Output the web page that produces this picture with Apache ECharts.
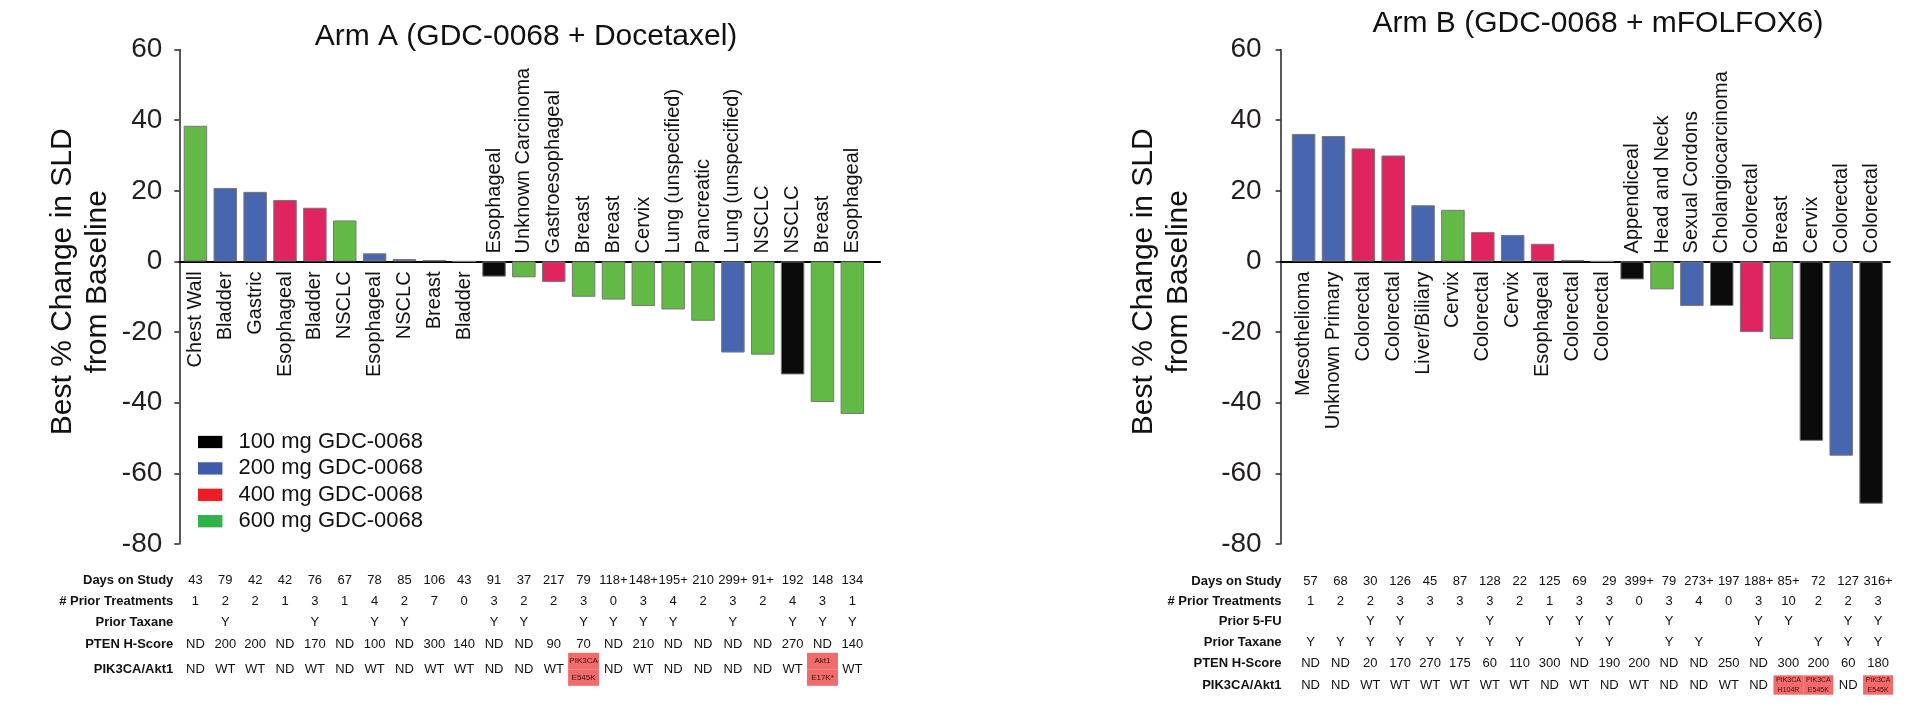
<!DOCTYPE html>
<html><head><meta charset="utf-8">
<script src="https://cdn.jsdelivr.net/npm/echarts@6/dist/echarts.min.js"></script>
<style>html,body{margin:0;padding:0;background:#fff;overflow:hidden}#c{width:1915px;height:705px}</style>
</head><body><div id="c"></div>
<script>
// ---------- data ----------
const doseLevels = [100, 200, 400, 600];
const doseNames = ['100 mg GDC-0068', '200 mg GDC-0068', '400 mg GDC-0068', '600 mg GDC-0068'];
const barColors = ['#0b0b0b', '#4866b0', '#e0245f', '#63b946'];
const legendColors = ['#000000', '#4059a8', '#ee1c25', '#2db34a'];
const yTicks = { min: -80, max: 60, step: 20 };

// Arm A
const titleA = 'Arm A (GDC-0068 + Docetaxel)';
const catA = ['Chest Wall', 'Bladder', 'Gastric', 'Esophageal', 'Bladder', 'NSCLC', 'Esophageal', 'NSCLC', 'Breast', 'Bladder',
  'Esophageal', 'Unknown Carcinoma', 'Gastroesophageal', 'Breast', 'Breast', 'Cervix', 'Lung (unspecified)', 'Pancreatic',
  'Lung (unspecified)', 'NSCLC', 'NSCLC', 'Breast', 'Esophageal'];
const valA = [38.4, 20.8, 19.7, 17.4, 15.2, 11.6, 2.3, 0.7, 0.4, 0,
  -4.3, -4.5, -5.8, -10.0, -10.8, -12.6, -13.6, -16.8, -25.8, -26.4, -32.0, -39.8, -43.2];
const doseA = [600, 200, 200, 400, 400, 600, 200, 200, 400, 200,
  100, 600, 400, 600, 600, 600, 600, 600, 200, 600, 100, 600, 600];
const daysA = ['43', '79', '42', '42', '76', '67', '78', '85', '106', '43', '91', '37', '217', '79', '118+', '148+', '195+', '210', '299+', '91+', '192', '148', '134'];
const priorA = ['1', '2', '2', '1', '3', '1', '4', '2', '7', '0', '3', '2', '2', '3', '0', '3', '4', '2', '3', '2', '4', '3', '1'];
const taxaneA = ['', 'Y', '', '', 'Y', '', 'Y', 'Y', '', '', 'Y', 'Y', '', 'Y', 'Y', 'Y', 'Y', '', 'Y', '', 'Y', 'Y', 'Y'];
const ptenA = ['ND', '200', '200', 'ND', '170', 'ND', '100', 'ND', '300', '140', 'ND', 'ND', '90', '70', 'ND', '210', 'ND', 'ND', 'ND', 'ND', '270', 'ND', '140'];
const pikA = ['ND', 'WT', 'WT', 'ND', 'WT', 'ND', 'WT', 'ND', 'WT', 'WT', 'ND', 'ND', 'WT', 'PIK3CA\nE545K', 'ND', 'WT', 'ND', 'ND', 'ND', 'ND', 'WT', 'Akt1\nE17K*', 'WT'];
const rowLabelsA = ['Days on Study', '# Prior Treatments', 'Prior Taxane', 'PTEN H-Score', 'PIK3CA/Akt1'];
const rowsA = [daysA, priorA, taxaneA, ptenA, pikA];

// Arm B
const titleB = 'Arm B (GDC-0068 + mFOLFOX6)';
const catB = ['Mesothelioma', 'Unknown Primary', 'Colorectal', 'Colorectal', 'Liver/Biliary', 'Cervix', 'Colorectal', 'Cervix',
  'Esophageal', 'Colorectal', 'Colorectal', 'Appendiceal', 'Head and Neck', 'Sexual Cordons', 'Cholangiocarcinoma',
  'Colorectal', 'Breast', 'Cervix', 'Colorectal', 'Colorectal'];
const valB = [36.1, 35.5, 32.0, 30.0, 15.9, 14.6, 8.3, 7.5, 5.0, 0.4, 0,
  -5.1, -7.9, -12.6, -12.6, -20.0, -22.0, -50.8, -55.0, -68.6];
const doseB = [200, 200, 400, 400, 200, 600, 400, 200, 400, 100, 100,
  100, 600, 200, 100, 400, 600, 100, 200, 100];
const daysB = ['57', '68', '30', '126', '45', '87', '128', '22', '125', '69', '29', '399+', '79', '273+', '197', '188+', '85+', '72', '127', '316+'];
const priorB = ['1', '2', '2', '3', '3', '3', '3', '2', '1', '3', '3', '0', '3', '4', '0', '3', '10', '2', '2', '3'];
const fuB = ['', '', 'Y', 'Y', '', '', 'Y', '', 'Y', 'Y', 'Y', '', 'Y', '', '', 'Y', 'Y', '', 'Y', 'Y'];
const taxaneB = ['Y', 'Y', 'Y', 'Y', 'Y', 'Y', 'Y', 'Y', '', 'Y', 'Y', '', 'Y', 'Y', '', 'Y', '', 'Y', 'Y', 'Y'];
const ptenB = ['ND', 'ND', '20', '170', '270', '175', '60', '110', '300', 'ND', '190', '200', 'ND', 'ND', '250', 'ND', '300', '200', '60', '180'];
const pikB = ['ND', 'ND', 'WT', 'WT', 'WT', 'WT', 'WT', 'WT', 'ND', 'WT', 'ND', 'WT', 'ND', 'ND', 'WT', 'ND', 'PIK3CA\nH104R', 'PIK3CA\nE545K', 'ND', 'PIK3CA\nE545K'];
const rowLabelsB = ['Days on Study', '# Prior Treatments', 'Prior 5-FU', 'Prior Taxane', 'PTEN H-Score', 'PIK3CA/Akt1'];
const rowsB = [daysB, priorB, fuB, taxaneB, ptenB, pikB];

// ---------- layout / style ----------
const FONT = 'Liberation Sans, Arial, Helvetica, sans-serif';
const arms = [
  { title: titleA, cat: catA, val: valA, dose: doseA, rows: rowsA, rowLabels: rowLabelsA,
    grid: { left: 179.3, top: 49.5, width: 700.8, height: 494.5 }, xMin: -0.54, xMax: 22.93, tableShift: 0,
    titleX: 526, titleY: 22, nameGap: 64, tickMargin: 17, rowY: [580, 601, 622.3, 644, 669.3], rowNameGap: 6,
    box: { w: 31, h: 16.5, fs: 8 } },
  { title: titleB, cat: catB, val: valB, dose: doseB, rows: rowsB, rowLabels: rowLabelsB,
    grid: { left: 1280.6, top: 49.5, width: 609.3, height: 494.5 }, xMin: -0.77, xMax: 19.63, tableShift: -0.234,
    titleX: 1598, titleY: 9, nameGap: 84, tickMargin: 19, rowY: [581, 601, 621.7, 642.3, 663.3, 685], rowNameGap: -1,
    box: { w: 30, h: 9.7, fs: 7 } }
];

const grids = [], xAxes = [], yAxes = [], series = [], titles = [];
arms.forEach((arm, g) => {
  grids.push(Object.assign({ outerBoundsMode: 'none', containLabel: false }, arm.grid));
  titles.push({ text: arm.title, left: arm.titleX, top: arm.titleY, textAlign: 'center', padding: 0,
    textStyle: { fontSize: 30, fontWeight: 'normal', color: '#111', fontFamily: FONT } });
  const gridBottom = arm.grid.top + arm.grid.height;
  const zeroY = arm.grid.top + arm.grid.height * yTicks.max / (yTicks.max - yTicks.min);
  const idx = arm.cat.map((_, i) => i);
  const mainX = xAxes.length;
  // main axis: zero line
  xAxes.push({ type: 'value', gridIndex: g, min: arm.xMin, max: arm.xMax, position: 'bottom',
    axisLine: { onZero: true, onZeroAxisIndex: g, lineStyle: { color: '#000', width: 2 } },
    axisTick: { show: false }, splitLine: { show: false }, axisLabel: { show: false } });
  // labels of non-negative bars, below the zero line
  xAxes.push({ type: 'value', gridIndex: g, min: arm.xMin, max: arm.xMax, position: 'bottom',
    offset: zeroY - gridBottom,
    axisLine: { show: false, onZero: false }, axisTick: { show: false }, splitLine: { show: false },
    axisLabel: { customValues: idx.filter(i => arm.val[i] >= 0), formatter: v => arm.cat[v], rotate: 90, margin: 10,
      fontSize: 20, color: '#111', fontFamily: FONT, showMinLabel: true, showMaxLabel: true } });
  // labels of negative bars, above the zero line
  xAxes.push({ type: 'value', gridIndex: g, min: arm.xMin, max: arm.xMax, position: 'top',
    offset: arm.grid.top - zeroY,
    axisLine: { show: false, onZero: false }, axisTick: { show: false }, splitLine: { show: false },
    axisLabel: { customValues: idx.filter(i => arm.val[i] < 0), formatter: v => arm.cat[v], rotate: -90, margin: 8,
      fontSize: 20, color: '#111', fontFamily: FONT, showMinLabel: true, showMaxLabel: true } });
  // table rows
  arm.rows.forEach((row, r) => {
    xAxes.push({ type: 'value', gridIndex: g, min: arm.xMin + arm.tableShift, max: arm.xMax + arm.tableShift, position: 'bottom',
      offset: arm.rowY[r] - gridBottom,
      axisLine: { show: false, onZero: false }, axisTick: { show: false }, splitLine: { show: false },
      name: arm.rowLabels[r], nameLocation: 'start', nameGap: arm.rowNameGap,
      nameTextStyle: { fontSize: 13, fontWeight: 'bold', color: '#111', fontFamily: FONT },
      axisLabel: { customValues: idx, margin: 0, verticalAlign: 'middle', fontSize: 13, color: '#111', fontFamily: FONT,
        showMinLabel: true, showMaxLabel: true,
        formatter: v => { const s = row[v]; return s.indexOf('\n') >= 0 ? s.split('\n').map(p => '{m|' + p + '}').join('\n') : s; },
        rich: { m: { backgroundColor: '#f26b6b', color: '#3b1010', fontSize: arm.box.fs, width: arm.box.w, height: arm.box.h,
          lineHeight: arm.box.h, align: 'center', verticalAlign: 'middle', fontFamily: FONT } } } });
  });
  yAxes.push({ type: 'value', gridIndex: g, min: yTicks.min, max: yTicks.max, interval: yTicks.step,
    axisLine: { show: true, onZero: false, lineStyle: { color: '#222', width: 1.5 } },
    axisTick: { show: true, length: 5, lineStyle: { color: '#222', width: 1.5 } },
    splitLine: { show: false },
    axisLabel: { fontSize: 28, margin: arm.tickMargin, color: '#231f20', fontFamily: FONT },
    name: 'Best % Change in SLD\nfrom Baseline', nameLocation: 'middle', nameRotate: 90, nameGap: arm.nameGap,
    nameTextStyle: { fontSize: 30, lineHeight: 35, color: '#111', fontFamily: FONT, padding: [0, 0, 0, 30] } });
  doseLevels.forEach((d, k) => {
    series.push({ type: 'bar', name: doseNames[k], xAxisIndex: mainX, yAxisIndex: g,
      barWidth: 23.5, barGap: '-100%',
      data: idx.filter(i => arm.dose[i] === d).map(i => [i, arm.val[i]]),
      itemStyle: { color: barColors[k], borderColor: '#777', borderWidth: 1 },
      emphasis: { disabled: true }, silent: true });
  });
});

const chart = echarts.init(document.getElementById('c'), null, { renderer: 'canvas' });
chart.setOption({
  animation: false,
  backgroundColor: '#fff',
  title: titles,
  grid: grids,
  xAxis: xAxes,
  yAxis: yAxes,
  series: series,
  legend: {
    data: doseNames.map((n, k) => ({ name: n, itemStyle: { color: legendColors[k], borderWidth: 0 } })),
    orient: 'vertical', left: 198, top: 431, padding: 0, icon: 'rect',
    itemWidth: 24.4, itemHeight: 12.3, itemGap: 4.4, selectedMode: false,
    textStyle: { fontSize: 22, lineHeight: 22, color: '#111', fontFamily: FONT, padding: [0, 0, 0, 11] }
  }
});
</script>
</body></html>
